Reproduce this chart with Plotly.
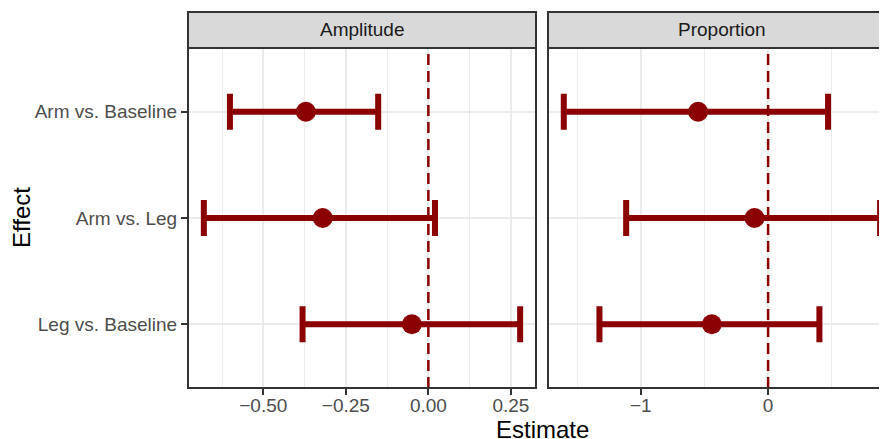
import plotly.graph_objects as go

effects = ["Arm vs. Baseline", "Arm vs. Leg", "Leg vs. Baseline"]
amp_est = [-0.371, -0.320, -0.050]
amp_lo = [-0.601, -0.680, -0.381]
amp_hi = [-0.152, 0.020, 0.278]
prop_est = [-0.550, -0.107, -0.442]
prop_lo = [-1.605, -1.115, -1.325]
prop_hi = [0.471, 0.880, 0.403]
panels = ["Amplitude", "Proportion"]
amp_ticks = [-0.5, -0.25, 0.0, 0.25]
amp_ticktext = ["\u22120.50", "\u22120.25", "0.00", "0.25"]
prop_ticks = [-1, 0]
prop_ticktext = ["\u22121", "0"]

RED = "#8B0000"
FONT = "Liberation Sans, Arial, Helvetica, sans-serif"

OFF = 8  # page body margin offset
W, H = 887 - OFF, 439 - OFF
PX_L, PX_R, PX_T, PX_B = 188, 887, 48, 388
ml, mr, mt, mb = PX_L - OFF, 0, PX_T - OFF, 439 - PX_B
pw = PX_R - PX_L
ph = PX_B - PX_T
d1 = (536 - PX_L) / pw
d2 = (548 - PX_L) / pw

fig = go.Figure()

def add_panel(est, lo, hi, xa, ya):
    fig.add_trace(go.Scatter(
        x=est, y=effects, mode="markers", xaxis=xa, yaxis=ya,
        marker=dict(color=RED, size=20, line=dict(width=0)),
        error_x=dict(type="data", symmetric=False,
                     array=[h - e for h, e in zip(hi, est)],
                     arrayminus=[e - l for e, l in zip(est, lo)],
                     color=RED, thickness=6, width=18),
        showlegend=False, hoverinfo="skip"))

add_panel(amp_est, amp_lo, amp_hi, "x", "y")
add_panel(prop_est, prop_lo, prop_hi, "x2", "y2")

grid = "#EBEBEB"
TICK = 19
TITLE = 24
common_x = dict(showgrid=True, gridcolor=grid, gridwidth=2, zeroline=False,
                ticks="outside", ticklen=6, tickwidth=2, tickcolor="#333333",
                tickfont=dict(family=FONT, size=TICK, color="#4D4D4D"),
                ticklabelstandoff=-6,
                showline=False, tickmode="array", fixedrange=True)
cat_order = effects[::-1]
fig.update_layout(
    width=W, height=H,
    margin=dict(l=ml, r=mr, t=mt, b=mb, autoexpand=False),
    paper_bgcolor="white", plot_bgcolor="white",
    xaxis=dict(domain=[0, d1], range=[-0.728, 0.326], tickvals=amp_ticks, ticktext=amp_ticktext,
               minor=dict(dtick=0.125, tick0=0, showgrid=True, gridcolor=grid, gridwidth=1),
               anchor="y", **common_x),
    xaxis2=dict(domain=[d2, 1], range=[-1.729, 0.934], tickvals=prop_ticks, ticktext=prop_ticktext,
                minor=dict(dtick=0.5, tick0=0, showgrid=True, gridcolor=grid, gridwidth=1),
                anchor="y2", **common_x),
    yaxis=dict(domain=[0, 1], type="category", categoryorder="array", categoryarray=cat_order,
               range=[-0.6, 2.6], showgrid=True, gridcolor=grid, gridwidth=2, zeroline=False,
               ticks="outside", ticklen=6, tickwidth=2, tickcolor="#333333",
               tickfont=dict(family=FONT, size=TICK, color="#4D4D4D"), anchor="x", fixedrange=True),
    yaxis2=dict(domain=[0, 1], type="category", categoryorder="array", categoryarray=cat_order,
                range=[-0.6, 2.6], showgrid=True, gridcolor=grid, gridwidth=2, zeroline=False,
                showticklabels=False, ticks="", anchor="x2", matches="y", fixedrange=True),
)

border = dict(color="#333333", width=2)
strip_h = 36 / ph
shapes = []
for xr, yr in [("x", "y domain"), ("x2", "y2 domain")]:
    shapes.append(dict(type="line", xref=xr, yref=yr, x0=0, x1=0, y0=0, y1=1,
                       line=dict(color=RED, width=2.5, dash="11px,6px"), layer="above"))
shapes.append(dict(type="rect", xref="paper", yref="paper", x0=0, x1=d1, y0=0, y1=1,
                   line=border, fillcolor="rgba(0,0,0,0)", layer="above"))
shapes.append(dict(type="rect", xref="paper", yref="paper", x0=d2, x1=1.05, y0=0, y1=1,
                   line=border, fillcolor="rgba(0,0,0,0)", layer="above"))
shapes.append(dict(type="rect", xref="paper", yref="paper", x0=0, x1=d1, y0=1, y1=1 + strip_h,
                   line=border, fillcolor="#D9D9D9", layer="above"))
shapes.append(dict(type="rect", xref="paper", yref="paper", x0=d2, x1=1.05, y0=1, y1=1 + strip_h,
                   line=border, fillcolor="#D9D9D9", layer="above"))
fig.update_layout(shapes=shapes)

annotations = [
    dict(text=panels[0], xref="paper", yref="paper", x=d1 / 2, y=1 + strip_h / 2,
         showarrow=False, font=dict(family=FONT, size=TICK, color="#1A1A1A"), xanchor="center", yanchor="middle"),
    dict(text=panels[1], xref="paper", yref="paper", x=((548 + 896) / 2 - PX_L) / pw, y=1 + strip_h / 2,
         showarrow=False, font=dict(family=FONT, size=TICK, color="#1A1A1A"), xanchor="center", yanchor="middle"),
    dict(text="Estimate", xref="paper", yref="paper", x=(542 - PX_L) / pw, y=-(429 - PX_B) / ph,
         showarrow=False, font=dict(family=FONT, size=TITLE, color="black"), xanchor="center", yanchor="middle"),
    dict(text="Effect", xref="paper", yref="paper", x=-(PX_L - 21) / pw, y=0.5, textangle=-90,
         showarrow=False, font=dict(family=FONT, size=TITLE, color="black"), xanchor="center", yanchor="middle"),
]
fig.update_layout(annotations=annotations)

fig.write_html("out.html")
